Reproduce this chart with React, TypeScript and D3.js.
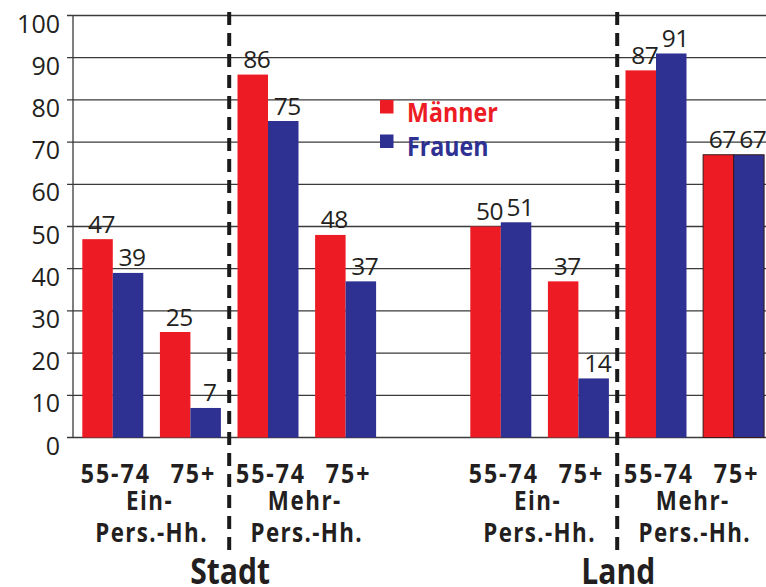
import React from "react";
import * as d3 from "d3";

// Share of people (%) by area, household type, age group and sex
const slotKeys = ["s-ein-55", "s-ein-75", "s-mehr-55", "s-mehr-75", "gap", "l-ein-55", "l-ein-75", "l-mehr-55", "l-mehr-75"];
const ageLabels = ["55-74", "75+", "55-74", "75+", "", "55-74", "75+", "55-74", "75+"];
const maenner = [47, 25, 86, 48, null, 50, 37, 87, 67];
const frauen = [39, 7, 75, 37, null, 51, 14, 91, 67];
const householdLabels = [["Ein-", "Pers.-Hh."], ["Mehr-", "Pers.-Hh."], ["Ein-", "Pers.-Hh."], ["Mehr-", "Pers.-Hh."]];
const householdSlots = [[0, 1], [2, 3], [5, 6], [7, 8]];
const areaLabels = ["Stadt", "Land"];
const dividerAfter = [1, 6];
const seriesNames = ["Männer", "Frauen"];
const yTicks = [0, 10, 20, 30, 40, 50, 60, 70, 80, 90, 100];

const W = 766;
const H = 587;
const RED = "#ED1C24";
const BLUE = "#2E3192";
const INK = "#231F20";
const FONT = "'Open Sans', 'DejaVu Sans', sans-serif";
const SQUEEZE = 0.86;

// bold, slightly condensed label
function Label({ x, y, text, size, spacing, anchor = "middle", fill = INK }: any) {
  return (
    <text
      transform={`translate(${x},${y}) scale(${SQUEEZE},1)`}
      textAnchor={anchor}
      fontFamily={FONT}
      fontWeight={700}
      fontSize={size}
      letterSpacing={spacing}
      fill={fill}
    >
      {text}
    </text>
  );
}

export default function App() {
  const y = d3.scaleLinear().domain([0, 100]).range([437.5, 15.5]);
  const x = d3.scaleBand<string>().domain(slotKeys).range([82.3, 764.1]).paddingInner(0.214).paddingOuter(0);
  const inner = d3.scaleBand<number>().domain([0, 1]).range([0, x.bandwidth()]).padding(0);
  const colors = [RED, BLUE];
  const series = [maenner, frauen];
  const axisX = 73;

  const center = (i: number) => (x(slotKeys[i]) as number) + x.bandwidth() / 2;
  const dividerX = (i: number) => ((x(slotKeys[i]) as number) + x.bandwidth() + (x(slotKeys[i + 1]) as number)) / 2;

  return (
    <svg width={W} height={H} style={{ position: "absolute", left: 0, top: 0, background: "#fff" }}>
      {/* grid lines */}
      {yTicks.map((t) => (
        <line key={"g" + t} x1={67} x2={W} y1={y(t)} y2={y(t)} stroke="#3a3a3a" strokeWidth={t === 0 ? 1.6 : 1.3} />
      ))}
      {/* y axis */}
      <line x1={axisX} x2={axisX} y1={y(100)} y2={y(0)} stroke="#3a3a3a" strokeWidth={1.3} />
      {yTicks.map((t) => (
        <text key={"t" + t} x={60} y={y(t) + 17} textAnchor="end" fontFamily={FONT} fontSize={25} fill={INK}>
          {t}
        </text>
      ))}

      {/* bars */}
      {slotKeys.map((k, i) =>
        series.map((s, j) => {
          const v = s[i];
          if (v == null) return null;
          const bx = (x(k) as number) + (inner(j) as number);
          const outlined = i === slotKeys.length - 1;
          return (
            <g key={k + j}>
              <rect
                x={bx}
                y={y(v)}
                width={inner.bandwidth()}
                height={y(0) - y(v)}
                fill={colors[j]}
                stroke={outlined ? "#3a1a1a" : "none"}
                strokeWidth={outlined ? 1 : 0}
              />
              <text
                x={bx + inner.bandwidth() / 2 + 4}
                y={y(v) - 6.5}
                textAnchor="middle"
                fontFamily={FONT}
                fontSize={24.5}
                letterSpacing={-0.5}
                fill={INK}
              >
                {v}
              </text>
            </g>
          );
        })
      )}

      {/* dashed dividers */}
      {dividerAfter.map((d) => (
        <line key={"d" + d} x1={dividerX(d)} x2={dividerX(d)} y1={12} y2={552} stroke="#1a1a1a" strokeWidth={4} strokeDasharray="13,8" />
      ))}

      {/* age labels */}
      {ageLabels.map((a, i) =>
        a ? <Label key={"a" + i} x={center(i) + 3} y={483} text={a} size={27} spacing={2.2} /> : null
      )}

      {/* household labels */}
      {householdSlots.map(([a, b], i) => {
        const cx = (center(a) + center(b)) / 2;
        return (
          <g key={"h" + i}>
            <Label x={cx - 2} y={510} text={householdLabels[i][0]} size={26} spacing={1.8} />
            <Label x={cx} y={541.5} text={householdLabels[i][1]} size={26} spacing={1.6} />
          </g>
        );
      })}

      {/* area labels */}
      {areaLabels.map((l, i) => (
        <Label key={"l" + i} x={dividerX(dividerAfter[i]) + 1} y={584} text={l} size={35} spacing={0} />
      ))}

      {/* legend */}
      {seriesNames.map((n, j) => (
        <g key={"lg" + j} transform={`translate(380, ${100 + j * 34.5})`}>
          <rect x={0} y={0} width={13.5} height={13.5} fill={colors[j]} />
          <Label x={27} y={21.5} text={n} size={27} spacing={0} anchor="start" fill={colors[j]} />
        </g>
      ))}
    </svg>
  );
}
